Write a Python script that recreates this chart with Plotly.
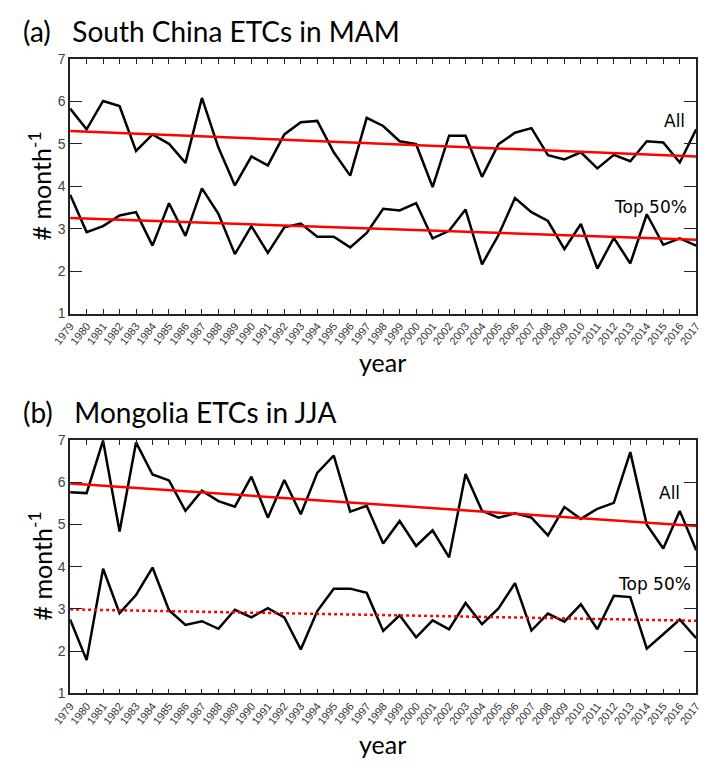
import plotly.graph_objects as go

years = list(range(1979, 2018))
year_labels = [str(y) for y in years]

# Panel (a): South China ETCs in MAM
a_all = [5.83, 5.34, 6.01, 5.89, 4.83, 5.22, 5.00, 4.55, 6.08, 4.91,
         4.02, 4.70, 4.49, 5.22, 5.51, 5.54, 4.80, 4.25, 5.61, 5.42,
         5.06, 4.99, 3.98, 5.19, 5.19, 4.22, 4.99, 5.26, 5.37, 4.73,
         4.63, 4.80, 4.42, 4.74, 4.59, 5.06, 5.03, 4.56, 5.34]
a_top = [3.80, 2.92, 3.06, 3.31, 3.39, 2.60, 3.60, 2.83, 3.95, 3.35,
         2.40, 3.06, 2.43, 3.03, 3.12, 2.81, 2.81, 2.56, 2.90, 3.47,
         3.43, 3.60, 2.77, 2.95, 3.45, 2.16, 2.85, 3.72, 3.39, 3.18,
         2.52, 3.11, 2.06, 2.78, 2.18, 3.34, 2.62, 2.77, 2.60]
a_all_trend = [5.30, 4.70]
a_top_trend = [3.25, 2.74]

# Panel (b): Mongolia ETCs in JJA
b_all = [5.76, 5.74, 6.98, 4.83, 6.94, 6.18, 6.04, 5.32, 5.80, 5.55,
         5.42, 6.13, 5.16, 6.05, 5.24, 6.22, 6.63, 5.30, 5.44, 4.55,
         5.08, 4.49, 4.86, 4.22, 6.19, 5.32, 5.16, 5.26, 5.16, 4.74,
         5.41, 5.13, 5.37, 5.51, 6.71, 4.99, 4.43, 5.32, 4.39]
b_top = [2.75, 1.79, 3.95, 2.90, 3.33, 3.98, 2.97, 2.62, 2.71, 2.53,
         2.98, 2.80, 3.02, 2.80, 2.04, 2.95, 3.48, 3.48, 3.38, 2.48,
         2.85, 2.33, 2.73, 2.52, 3.14, 2.64, 3.01, 3.61, 2.49, 2.89,
         2.70, 3.11, 2.52, 3.31, 3.28, 2.06, 2.40, 2.75, 2.31]
b_all_trend = [5.97, 4.96]
b_top_trend = [2.99, 2.72]

trend_years = [years[0], years[-1]]
y_ticks = [1, 2, 3, 4, 5, 6, 7]

W, H = 708, 772


def px(x):
    return x / W


def py(y):
    return 1 - y / H


fig = go.Figure()

panels = [
    ("x", "y", a_all, a_top, a_all_trend, a_top_trend, "solid"),
    ("x2", "y2", b_all, b_top, b_all_trend, b_top_trend, "dot"),
]
for xa, ya, s_all, s_top, t_all, t_top, dash_top in panels:
    fig.add_trace(go.Scatter(x=years, y=s_all, mode="lines", xaxis=xa, yaxis=ya,
                             line=dict(color="black", width=2.5), showlegend=False))
    fig.add_trace(go.Scatter(x=years, y=s_top, mode="lines", xaxis=xa, yaxis=ya,
                             line=dict(color="black", width=2.5), showlegend=False))
    fig.add_trace(go.Scatter(x=trend_years, y=t_all, mode="lines", xaxis=xa, yaxis=ya,
                             line=dict(color="#ff0000", width=2.5), showlegend=False))
    fig.add_trace(go.Scatter(x=trend_years, y=t_top, mode="lines", xaxis=xa, yaxis=ya,
                             line=dict(color="#ff0000", width=2.5, dash=dash_top),
                             showlegend=False))

xcommon = dict(range=[1979, 2017], tickmode="array", tickvals=years, ticktext=year_labels,
               tickangle=-52, ticks="inside", ticklen=5, tickwidth=1.2, tickcolor="#222",
               ticklabeloverflow="allow",
               showline=True, linecolor="#222", linewidth=1.5, mirror="ticks",
               showgrid=False, zeroline=False,
               tickfont=dict(family="Liberation Sans, Arial", size=11, color="#333"))
ycommon = dict(range=[1, 7], tickmode="array", tickvals=y_ticks,
               ticks="inside", ticklen=12, tickwidth=1.2, tickcolor="#222",
               showline=True, linecolor="#222", linewidth=1.5, mirror="ticks",
               showgrid=False, zeroline=False,
               tickfont=dict(family="Liberation Sans, Arial", size=14, color="#444"))

xdom = [px(53), px(702)]
fig.update_layout(
    width=W, height=H, margin=dict(l=0, r=0, t=0, b=0),
    paper_bgcolor="white", plot_bgcolor="white",
    xaxis=dict(domain=xdom, anchor="y", **xcommon),
    yaxis=dict(domain=[py(312), py(52)], anchor="x", **ycommon),
    xaxis2=dict(domain=xdom, anchor="y2", **xcommon),
    yaxis2=dict(domain=[py(700), py(441)], anchor="x2", **ycommon),
)

title_font = dict(family="Lato, Open Sans, sans-serif", size=28, color="black")
label_font = dict(family="Lato, Open Sans, sans-serif", size=25, color="black")
note_font = dict(family="DejaVu Sans, sans-serif", size=17, color="black")

annotations = [
    dict(text="(a)\u00a0\u00a0\u00a0South China ETCs in MAM", x=px(2), y=py(4),
         xanchor="left", yanchor="top", font=title_font),
    dict(text="(b)\u00a0\u00a0\u00a0Mongolia ETCs in JJA", x=px(2), y=py(393),
         xanchor="left", yanchor="top", font=title_font),
    dict(text="year", x=px(377), y=py(362), xanchor="center", yanchor="middle", font=label_font),
    dict(text="year", x=px(377), y=py(752), xanchor="center", yanchor="middle", font=label_font),
    dict(text="# month<sup>-1</sup>", x=px(22), y=py(182), textangle=-90,
         xanchor="center", yanchor="middle", font=label_font),
    dict(text="# month<sup>-1</sup>", x=px(22), y=py(570), textangle=-90,
         xanchor="center", yanchor="middle", font=label_font),
    dict(text="All", x=px(679), y=py(115), xanchor="center", yanchor="middle", font=note_font),
    dict(text="Top 50%", x=px(655), y=py(203), xanchor="center", yanchor="middle", font=note_font),
    dict(text="All", x=px(674), y=py(495), xanchor="center", yanchor="middle", font=note_font),
    dict(text="Top 50%", x=px(659), y=py(588), xanchor="center", yanchor="middle", font=note_font),
]
for a in annotations:
    a.update(xref="paper", yref="paper", showarrow=False)
fig.update_layout(annotations=annotations)

fig.write_html("out.html", config={"displayModeBar": False},
               post_script="document.body.style.margin='0';document.body.style.padding='0';")
